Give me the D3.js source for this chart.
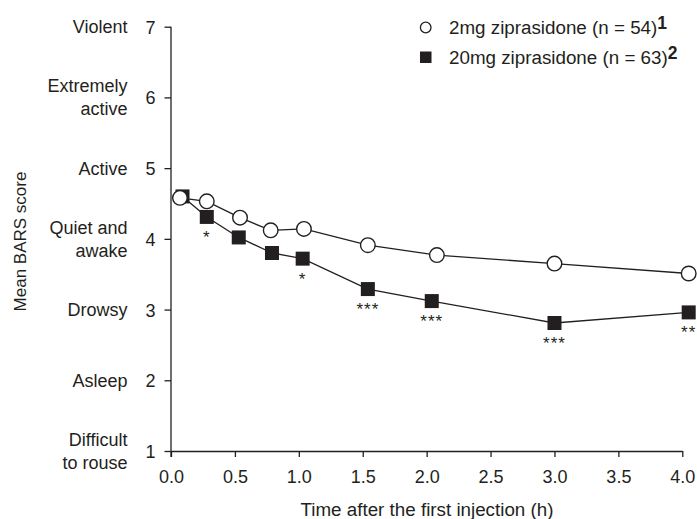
<!DOCTYPE html>
<html>
<head>
<meta charset="utf-8">
<script src="https://d3js.org/d3.v7.min.js"></script>
<style>
 body { margin: 0; background: #fff; }
 text { font-family: "Liberation Sans", Arial, sans-serif; fill: #231f20; }
</style>
</head>
<body>
<svg width="697" height="519"></svg>
<script>
 // values
 var lowTime   = [0.07, 0.28, 0.54, 0.78, 1.04, 1.54, 2.08, 3.0, 4.05];
 var lowScore  = [4.58, 4.53, 4.30, 4.12, 4.14, 3.91, 3.77, 3.65, 3.51];
 var highTime  = [0.09, 0.28, 0.53, 0.79, 1.03, 1.54, 2.04, 3.0, 4.05];
 var highScore = [4.60, 4.31, 4.02, 3.80, 3.72, 3.29, 3.12, 2.81, 2.96];
 var highStars = ["", "*", "", "", "*", "***", "***", "***", "**"];

 var xTicks = [0, 0.5, 1, 1.5, 2, 2.5, 3, 3.5, 4];
 var yTicks = [1, 2, 3, 4, 5, 6, 7];
 var yNames = [["Difficult", "to rouse"], ["Asleep"], ["Drowsy"], ["Quiet and", "awake"],
               ["Active"], ["Extremely", "active"], ["Violent"]];
 var seriesNames = ["2mg ziprasidone (n = 54)", "20mg ziprasidone (n = 63)"];
 var seriesNotes = ["1", "2"];

 var ink = "#231f20";
 var svg = d3.select("svg");

 var x = d3.scaleLinear().domain([0, 4]).range([171, 682.3]);
 var y = d3.scaleLinear().domain([1, 7]).range([451, 26.7]);

 var low = lowTime.map(function (t, i) { return {t: t, v: lowScore[i]}; });
 var high = highTime.map(function (t, i) { return {t: t, v: highScore[i], s: highStars[i]}; });

 // axes
 var ax = svg.append("g").attr("transform", "translate(0,451)")
    .call(d3.axisBottom(x).tickValues(xTicks).tickSize(6).tickSizeOuter(0)
          .tickFormat(d3.format(".1f")));
 var ay = svg.append("g").attr("transform", "translate(171,0)")
    .call(d3.axisLeft(y).tickValues(yTicks).tickSize(6.5).tickSizeOuter(0)
          .tickFormat(d3.format("d")));
 [ax, ay].forEach(function (a) {
     a.selectAll("path, line").attr("stroke", ink).attr("stroke-width", 1.3);
     a.selectAll("text").style("font-size", "18px").attr("fill", ink);
 });
 ax.selectAll(".tick text").attr("y", 19).attr("dy", "0.71em");
 ay.selectAll(".tick text").attr("x", -15.5).attr("dy", "0.36em");
 // y axis line continues down to the bottom of the 0.0 tick
 ay.select(".domain").attr("d", "M0," + y(7) + "V457");

 // category names beside the numbers
 var names = svg.append("g");
 yTicks.forEach(function (v, i) {
     var lines = yNames[i];
     var t = names.append("text").attr("text-anchor", "end")
        .attr("x", 127.5).style("font-size", "18px");
     lines.forEach(function (l, j) {
         t.append("tspan").attr("x", 127.5)
          .attr("y", y(v) + (j - (lines.length - 1) / 2) * 23)
          .attr("dy", "0.36em").text(l);
     });
 });

 // axis titles
 svg.append("text").attr("x", 427).attr("y", 516).attr("text-anchor", "middle")
    .style("font-size", "18.8px").text("Time after the first injection (h)");
 svg.append("text").attr("transform", "translate(25.5,241.5) rotate(-90)")
    .attr("text-anchor", "middle").style("font-size", "17px").text("Mean BARS score");

 var line = d3.line().x(function (d) { return x(d.t); }).y(function (d) { return y(d.v); });

 svg.append("path").datum(high).attr("d", line)
    .attr("fill", "none").attr("stroke", ink).attr("stroke-width", 1.3);
 svg.append("path").datum(low).attr("d", line)
    .attr("fill", "none").attr("stroke", ink).attr("stroke-width", 1.3);

 svg.selectAll("rect.high").data(high).enter().append("rect").attr("class", "high")
    .attr("x", function (d) { return x(d.t) - 7; })
    .attr("y", function (d) { return y(d.v) - 7; })
    .attr("width", 14).attr("height", 14).attr("fill", ink);

 svg.selectAll("circle.low").data(low).enter().append("circle").attr("class", "low")
    .attr("cx", function (d) { return x(d.t); })
    .attr("cy", function (d) { return y(d.v); })
    .attr("r", 7.3).attr("fill", "#fff").attr("stroke", ink).attr("stroke-width", 1.4);

 svg.selectAll("text.star").data(high).enter().append("text").attr("class", "star")
    .attr("x", function (d) { return x(d.t); })
    .attr("y", function (d) { return y(d.v) + 26; })
    .attr("text-anchor", "middle").style("font-size", "17px")
    .style("letter-spacing", "1px")
    .text(function (d) { return d.s; });

 // legend
 var lg = svg.append("g");
 lg.append("circle").attr("cx", 425.7).attr("cy", 27.5).attr("r", 5.3)
   .attr("fill", "#fff").attr("stroke", ink).attr("stroke-width", 1.3);
 lg.append("rect").attr("x", 420).attr("y", 51.5).attr("width", 11.5).attr("height", 11.5)
   .attr("fill", ink);
 seriesNames.forEach(function (s, i) {
     var t = lg.append("text").attr("x", 449).attr("y", 33.5 + i * 30)
        .style("font-size", "18.8px");
     t.append("tspan").text(s);
     t.append("tspan").attr("dy", -5).style("font-weight", "bold")
      .style("font-size", "17.5px").text(seriesNotes[i]);
 });
</script>
</body>
</html>
